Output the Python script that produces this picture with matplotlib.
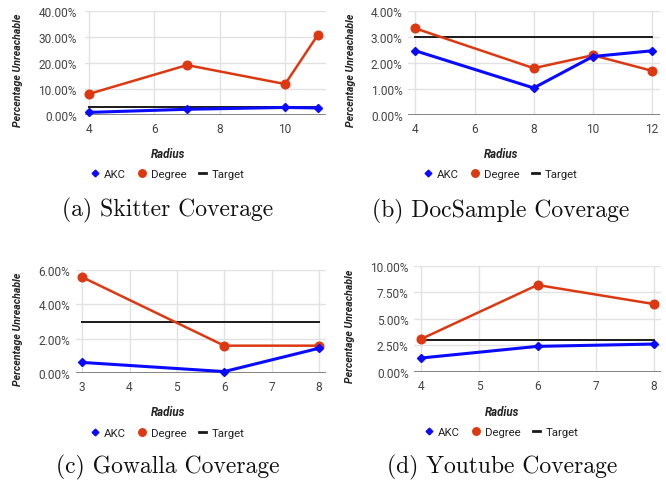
import matplotlib
matplotlib.use('Agg')
import matplotlib.pyplot as plt
from matplotlib.lines import Line2D
from matplotlib.ticker import FuncFormatter

# ---------------- data (percent unreachable) ----------------
skitter_radius = [4, 7, 10, 11]
skitter_akc = [1.0, 2.2, 2.9, 2.7]
skitter_degree = [8.1, 19.2, 11.9, 30.8]
skitter_target = [3.0, 3.0, 3.0, 3.0]
skitter_xticks = [4, 6, 8, 10]
skitter_yticks = [0, 10, 20, 30, 40]

doc_radius = [4, 8, 10, 12]
doc_akc = [2.47, 1.04, 2.25, 2.47]
doc_degree = [3.33, 1.80, 2.30, 1.70]
doc_target = [3.0, 3.0, 3.0, 3.0]
doc_xticks = [4, 6, 8, 10, 12]
doc_yticks = [0, 1, 2, 3, 4]

gow_radius = [3, 6, 8]
gow_akc = [0.63, 0.10, 1.45]
gow_degree = [5.57, 1.60, 1.60]
gow_target = [3.0, 3.0, 3.0]
gow_xticks = [3, 4, 5, 6, 7, 8]
gow_yticks = [0, 2, 4, 6]

yt_radius = [4, 6, 8]
yt_akc = [1.29, 2.39, 2.61]
yt_degree = [3.08, 8.18, 6.38]
yt_target = [3.0, 3.0, 3.0]
yt_xticks = [4, 5, 6, 7, 8]
yt_yticks = [0, 2.5, 5, 7.5, 10]

captions = ["(a) Skitter Coverage", "(b) DocSample Coverage",
            "(c) Gowalla Coverage", "(d) Youtube Coverage"]
series_names = ["AKC", "Degree", "Target"]
xlabel_text = "Radius"
ylabel_text = "Percentage Unreachable"

# ---------------- styling ----------------
W, H = 666, 481
fig = plt.figure(figsize=(W / 100, H / 100), dpi=100)

BLUE = '#0a0aff'
ORANGE = '#dc3912'
BLACK = '#1a1a1a'
TICKC = '#444444'
FONT = 'Roboto'

panels = [
    dict(box=(85, 12, 326, 116), xlim=(3.88, 11.25), ylim=(0, 40),
         x=skitter_radius, akc=skitter_akc, deg=skitter_degree, tgt=skitter_target,
         xt=skitter_xticks, yt=skitter_yticks, ypad=6.0, cx=168,
         ylab=(18, 70), xlab_y=155, leg_y=175, cap_y=210),
    dict(box=(408, 12, 660, 116), xlim=(3.75, 12.27), ylim=(0, 4),
         x=doc_radius, akc=doc_akc, deg=doc_degree, tgt=doc_target,
         xt=doc_xticks, yt=doc_yticks, ypad=3.8, cx=501,
         ylab=(351, 70), xlab_y=155, leg_y=175, cap_y=211),
    dict(box=(76, 270.7, 326, 374.3), xlim=(2.87, 8.15), ylim=(0, 6),
         x=gow_radius, akc=gow_akc, deg=gow_degree, tgt=gow_target,
         xt=gow_xticks, yt=gow_yticks, ypad=4.0, cx=168,
         ylab=(18, 329), xlab_y=413, leg_y=434, cap_y=467),
    dict(box=(414, 266.7, 661, 372.7), xlim=(3.88, 8.12), ylim=(0, 10),
         x=yt_radius, akc=yt_akc, deg=yt_degree, tgt=yt_target,
         xt=yt_xticks, yt=yt_yticks, ypad=3.8, cx=502,
         ylab=(350, 326), xlab_y=413, leg_y=433, cap_y=467),
]


def pct(v, pos):
    return f"{v:.2f}%"


for p, cap in zip(panels, captions):
    l, t, r, b = p['box']
    ax = fig.add_axes([l / W, 1 - b / H, (r - l) / W, (b - t) / H])
    ax.set_xlim(*p['xlim'])
    ax.set_ylim(*p['ylim'])
    ax.set_xticks(p['xt'])
    ax.set_yticks(p['yt'])
    ax.yaxis.set_major_formatter(FuncFormatter(pct))
    for s in ax.spines.values():
        s.set_visible(False)
    ax.grid(True, color='#e2e2e2', linewidth=1.0, zorder=0)
    ax.set_axisbelow(True)
    ax.axhline(p['ylim'][0], color='#7a7a7a', linewidth=1.3, zorder=1)
    ax.tick_params(length=0, labelsize=8.6, labelcolor=TICKC)
    ax.tick_params(axis='y', pad=p['ypad'])
    ax.tick_params(axis='x', pad=5)
    for lab in ax.get_xticklabels() + ax.get_yticklabels():
        lab.set_fontfamily(FONT)

    ax.plot(p['x'], p['tgt'], color=BLACK, linewidth=1.4, zorder=2, clip_on=False)
    ax.plot(p['x'], p['deg'], color=ORANGE, linewidth=1.8, marker='o',
            markersize=6.2, zorder=3, clip_on=False)
    ax.plot(p['x'], p['akc'], color=BLUE, linewidth=2.2, marker='D',
            markersize=4.0, zorder=4, clip_on=False)

    # labels
    yl_x, yl_y = p['ylab']
    fig.text(yl_x / W, 1 - yl_y / H, ylabel_text, rotation=90, ha='center',
             va='center', fontsize=7.6, fontweight='bold', fontstyle='italic',
             color='#222222', fontfamily=FONT)
    fig.text(p['cx'] / W, 1 - p['xlab_y'] / H, xlabel_text, ha='center',
             va='center', fontsize=8.3, fontweight='bold', fontstyle='italic',
             color='#222222', fontfamily=FONT)

    handles = [
        Line2D([], [], color=BLUE, marker='D', markersize=3.4, linestyle='None'),
        Line2D([], [], color=ORANGE, marker='o', markersize=5.4, linestyle='None'),
        Line2D([], [], color=BLACK, linewidth=2.0),
    ]
    fig.legend(handles, series_names, loc='center',
               bbox_to_anchor=(p['cx'] / W, 1 - p['leg_y'] / H), ncol=3,
               frameon=False, handlelength=0.6, handletextpad=0.5,
               columnspacing=1.1, borderpad=0,
               prop={'family': FONT, 'size': 8.2}, labelcolor='#222222')

    fig.text(p['cx'] / W, 1 - p['cap_y'] / H, cap, ha='center', va='center',
             fontsize=17, fontfamily='cmr10', color='#111111')

fig.savefig('out.png', dpi=100)
